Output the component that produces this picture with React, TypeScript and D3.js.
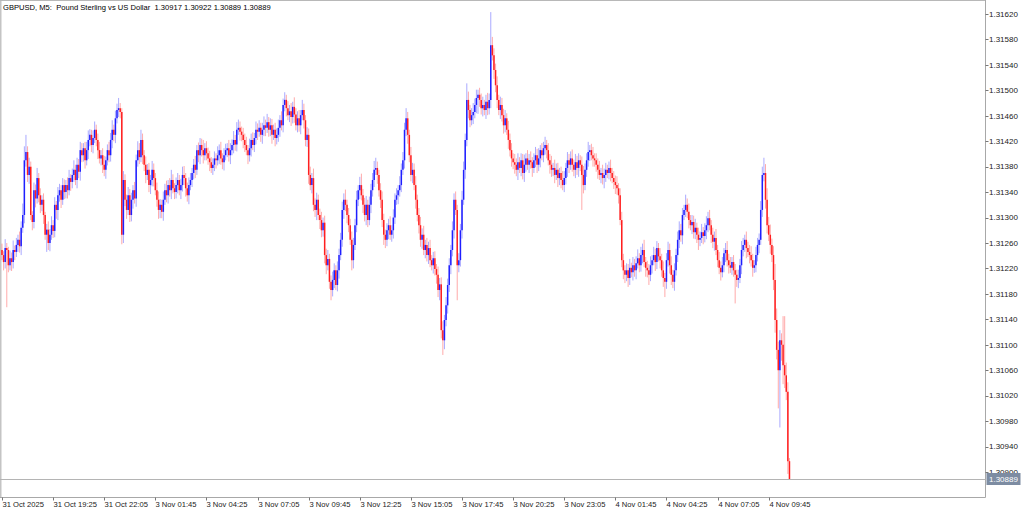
import React from "react";
import * as d3 from "d3";

const W = 1024;
const H = 511;

const title = "GBPUSD, M5:  Pound Sterling vs US Dollar  1.30917 1.30922 1.30889 1.30889";
const priceBase = 1.3;
const pointSize = 0.00001;
const firstOpenPts = 1249;
const lastPrice = 1.30889;

// close prices, in points (0.00001) above 1.30000, one per 5-minute bar
const closePts = [
  1241, 1230, 1252, 1249, 1225, 1236, 1230, 1249, 1246, 1257,
  1265, 1255, 1284, 1304, 1390, 1403, 1367, 1380, 1304, 1293,
  1343, 1330, 1362, 1335, 1320, 1328, 1304, 1273, 1281, 1260,
  1273, 1288, 1279, 1320, 1312, 1335, 1343, 1328, 1351, 1340,
  1351, 1343, 1362, 1356, 1367, 1375, 1359, 1383, 1372, 1406,
  1398, 1409, 1390, 1406, 1422, 1430, 1414, 1425, 1438, 1422,
  1406, 1393, 1398, 1383, 1375, 1390, 1406, 1398, 1422, 1438,
  1430, 1456, 1469, 1472, 1466, 1273, 1359, 1328, 1312, 1335,
  1304, 1328, 1343, 1330, 1390, 1406, 1395, 1422, 1398, 1383,
  1367, 1375, 1351, 1359, 1375, 1362, 1343, 1328, 1312, 1320,
  1309, 1328, 1343, 1335, 1351, 1343, 1359, 1346, 1340, 1351,
  1359, 1343, 1351, 1367, 1362, 1346, 1335, 1351, 1359, 1370,
  1383, 1375, 1406, 1398, 1414, 1406, 1398, 1409, 1401, 1393,
  1387, 1378, 1383, 1393, 1390, 1398, 1406, 1393, 1387, 1398,
  1406, 1409, 1398, 1406, 1414, 1422, 1415, 1438, 1441, 1435,
  1430, 1422, 1414, 1406, 1398, 1409, 1422, 1414, 1425, 1438,
  1435, 1441, 1430, 1438, 1445, 1441, 1450, 1438, 1445, 1430,
  1438, 1425, 1430, 1441, 1453, 1445, 1477, 1485, 1472, 1461,
  1467, 1458, 1474, 1462, 1445, 1456, 1445, 1461, 1469, 1453,
  1422, 1430, 1367, 1351, 1362, 1320, 1312, 1328, 1304, 1296,
  1280, 1292, 1241, 1225, 1235, 1199, 1186, 1202, 1217, 1194,
  1217, 1241, 1265, 1312, 1328, 1320, 1304, 1288, 1265, 1233,
  1257, 1288, 1328, 1343, 1351, 1335, 1320, 1304, 1320, 1296,
  1320, 1343, 1359, 1375, 1378, 1367, 1343, 1328, 1296, 1273,
  1265, 1280, 1288, 1273, 1280, 1300, 1328, 1335, 1343, 1351,
  1375, 1390, 1438, 1456, 1430, 1398, 1367, 1375, 1351, 1328,
  1304, 1288, 1265, 1273, 1249, 1257, 1241, 1252, 1233, 1225,
  1236, 1219, 1210, 1186, 1195, 1123, 1107, 1139, 1162, 1194,
  1225, 1249, 1280, 1328, 1312, 1225, 1233, 1280, 1328, 1375,
  1422, 1485, 1469, 1453, 1461, 1466, 1477, 1488, 1493, 1485,
  1472, 1477, 1469, 1482, 1472, 1485, 1571, 1555, 1532, 1508,
  1485, 1469, 1477, 1461, 1445, 1456, 1438, 1422, 1406, 1393,
  1387, 1383, 1375, 1387, 1378, 1390, 1370, 1383, 1393, 1383,
  1390, 1387, 1378, 1390, 1398, 1383, 1393, 1406, 1398, 1409,
  1414, 1406, 1390, 1383, 1375, 1378, 1367, 1375, 1362, 1370,
  1359, 1351, 1362, 1378, 1390, 1383, 1393, 1383, 1375, 1387,
  1378, 1390, 1383, 1367, 1351, 1375, 1390, 1403, 1406, 1398,
  1393, 1390, 1383, 1375, 1367, 1370, 1362, 1367, 1375, 1370,
  1378, 1370, 1362, 1356, 1351, 1346, 1335, 1296, 1233, 1217,
  1210, 1217, 1205, 1221, 1214, 1225, 1217, 1228, 1236, 1225,
  1241, 1249, 1230, 1221, 1217, 1210, 1225, 1233, 1241, 1230,
  1252, 1239, 1233, 1217, 1205, 1199, 1233, 1249, 1225, 1210,
  1199, 1217, 1241, 1265, 1280, 1272, 1304, 1312, 1320, 1309,
  1296, 1288, 1293, 1277, 1284, 1273, 1265, 1268, 1277, 1271,
  1280, 1288, 1299, 1288, 1273, 1262, 1268, 1249, 1233, 1221,
  1214, 1225, 1244, 1249, 1233, 1225, 1221, 1230, 1217, 1210,
  1202, 1205, 1225, 1249, 1257, 1265, 1252, 1246, 1241, 1233,
  1221, 1225, 1241, 1257, 1265, 1312, 1367, 1370, 1328, 1288,
  1273, 1257, 1241, 1202, 1139, 1092, 1060, 1107, 1100, 1068,
  1052, 1026, 917, 889,
];

// upper wick length above the body, in points
const upWick = [
  10, 6, 14, 8, 5, 12, 9, 15, 7, 11,
  8, 13, 10, 18, 22, 27, 9, 14, 8, 6,
  12, 9, 16, 8, 11, 7, 10, 5, 9, 13,
  9, 14, 8, 12, 6, 13, 10, 8, 11, 9,
  8, 12, 13, 6, 10, 15, 8, 11, 9, 13,
  11, 8, 10, 13, 15, 9, 8, 12, 13, 8,
  10, 13, 8, 11, 14, 6, 9, 13, 11, 15,
  8, 12, 10, 16, 8, 6, 14, 9, 8, 13,
  10, 11, 8, 13, 9, 14, 11, 16, 10, 8,
  13, 9, 11, 8, 14, 10, 8, 12, 13, 9,
  8, 13, 10, 15, 8, 11, 16, 9, 8, 12,
  11, 8, 10, 13, 14, 8, 9, 12, 11, 8,
  9, 14, 8, 12, 11, 10, 16, 8, 11, 9,
  12, 8, 10, 11, 8, 14, 9, 13, 8, 11,
  10, 8, 13, 11, 9, 14, 8, 12, 13, 10,
  8, 11, 10, 13, 8, 15, 10, 12, 8, 13,
  10, 12, 8, 11, 14, 9, 13, 8, 11, 10,
  8, 11, 10, 13, 8, 14, 10, 12, 8, 11,
  10, 13, 8, 15, 10, 11, 13, 8, 16, 10,
  8, 12, 10, 13, 8, 15, 10, 11, 8, 10,
  13, 8, 11, 10, 14, 8, 10, 13, 11, 8,
  14, 10, 11, 13, 10, 16, 8, 11, 10, 13,
  11, 10, 14, 8, 13, 18, 10, 11, 14, 8,
  13, 10, 11, 14, 16, 10, 8, 11, 13, 10,
  8, 11, 10, 14, 8, 13, 10, 11, 8, 14,
  10, 13, 11, 16, 10, 8, 13, 11, 10, 14,
  8, 11, 13, 10, 14, 8, 11, 10, 13, 8,
  10, 11, 8, 13, 10, 11, 14, 8, 13, 10,
  11, 8, 14, 10, 13, 8, 11, 10, 14, 13,
  10, 26, 13, 8, 11, 14, 10, 13, 8, 11,
  10, 13, 8, 11, 14, 10, 52, 13, 11, 10,
  14, 8, 13, 11, 10, 13, 8, 14, 10, 11,
  8, 13, 10, 14, 8, 11, 10, 16, 8, 13,
  10, 14, 8, 11, 13, 10, 16, 8, 11, 10,
  13, 8, 11, 10, 14, 8, 13, 10, 11, 8,
  10, 14, 11, 8, 13, 10, 11, 14, 8, 13,
  10, 11, 8, 13, 14, 10, 11, 16, 8, 10,
  13, 8, 11, 10, 14, 8, 13, 10, 11, 8,
  10, 13, 8, 11, 10, 14, 8, 11, 13, 10,
  8, 11, 10, 14, 8, 13, 10, 11, 14, 8,
  13, 10, 16, 8, 11, 10, 14, 8, 13, 10,
  11, 8, 13, 10, 14, 8, 11, 13, 10, 14,
  8, 11, 10, 13, 14, 10, 11, 8, 16, 10,
  13, 8, 11, 10, 14, 8, 11, 10, 13, 8,
  11, 14, 10, 13, 8, 11, 10, 14, 8, 13,
  10, 13, 8, 11, 14, 10, 13, 8, 11, 10,
  8, 13, 10, 14, 11, 8, 13, 10, 11, 14,
  10, 8, 13, 11, 10, 14, 13, 24, 14, 18,
  13, 16, 10, 14, 25, 18, 13, 16, 11, 45,
  77, 20, 15, 5,
];

// lower wick length below the body, in points
const downWick = [
  8, 13, 10, 90, 11, 8, 14, 10, 13, 8,
  11, 10, 14, 8, 13, 10, 11, 14, 8, 13,
  10, 14, 8, 11, 13, 10, 14, 8, 27, 11,
  13, 8, 11, 10, 14, 16, 10, 13, 8, 11,
  10, 13, 8, 14, 10, 11, 8, 13, 10, 14,
  11, 10, 13, 8, 14, 10, 11, 13, 8, 10,
  14, 8, 11, 13, 10, 14, 8, 11, 10, 13,
  10, 13, 8, 11, 10, 15, 13, 10, 14, 8,
  11, 10, 14, 8, 13, 10, 11, 8, 14, 10,
  13, 8, 11, 14, 10, 13, 8, 11, 14, 13,
  10, 14, 8, 11, 13, 10, 14, 8, 11, 10,
  13, 8, 14, 10, 11, 13, 10, 14, 8, 11,
  10, 13, 8, 11, 14, 10, 13, 8, 11, 10,
  14, 8, 11, 10, 13, 8, 14, 10, 11, 13,
  8, 11, 10, 14, 8, 13, 10, 11, 8, 14,
  10, 13, 11, 8, 14, 10, 13, 8, 11, 10,
  13, 8, 11, 14, 10, 13, 8, 11, 10, 14,
  8, 13, 10, 11, 14, 8, 11, 10, 13, 8,
  11, 14, 10, 13, 8, 11, 10, 14, 8, 13,
  10, 11, 14, 8, 13, 10, 11, 16, 8, 14,
  11, 10, 13, 14, 8, 11, 16, 10, 13, 8,
  10, 13, 8, 11, 14, 10, 13, 11, 8, 16,
  13, 8, 11, 10, 14, 8, 13, 10, 16, 11,
  8, 13, 10, 11, 8, 14, 10, 13, 11, 16,
  13, 10, 14, 8, 11, 13, 10, 8, 14, 10,
  11, 8, 13, 10, 14, 11, 10, 13, 8, 14,
  10, 13, 11, 14, 8, 13, 10, 14, 11, 8,
  13, 10, 14, 11, 16, 13, 23, 14, 10, 13,
  11, 14, 10, 13, 8, 55, 11, 10, 13, 8,
  14, 10, 13, 11, 8, 14, 10, 13, 25, 11,
  10, 13, 8, 14, 11, 10, 13, 8, 14, 11,
  13, 8, 14, 10, 13, 11, 8, 14, 10, 13,
  11, 14, 10, 16, 8, 13, 10, 14, 11, 8,
  13, 10, 14, 8, 11, 13, 10, 14, 8, 11,
  10, 13, 8, 14, 11, 10, 13, 8, 14, 11,
  13, 8, 11, 10, 14, 13, 8, 11, 10, 13,
  11, 14, 10, 55, 13, 8, 11, 10, 14, 8,
  13, 10, 11, 14, 8, 13, 10, 16, 11, 8,
  10, 13, 8, 11, 14, 10, 13, 8, 11, 14,
  13, 10, 14, 11, 8, 13, 10, 14, 8, 11,
  10, 13, 8, 14, 11, 16, 10, 13, 8, 14,
  11, 8, 13, 10, 14, 24, 11, 10, 13, 16,
  10, 14, 8, 11, 13, 10, 14, 8, 11, 10,
  13, 8, 14, 10, 11, 13, 16, 10, 8, 13,
  10, 14, 11, 8, 13, 10, 14, 8, 11, 10,
  13, 8, 11, 14, 10, 13, 8, 11, 10, 45,
  11, 13, 8, 14, 10, 11, 16, 8, 13, 10,
  14, 8, 11, 10, 13, 8, 11, 10, 14, 13,
  10, 14, 11, 16, 20, 15, 60, 90, 25, 30,
  20, 13, 20, 0,
];

const xTickLabels = [
  "31 Oct 2025", "31 Oct 19:25", "31 Oct 22:05", "3 Nov 01:45",
  "3 Nov 04:25", "3 Nov 07:05", "3 Nov 09:45", "3 Nov 12:25",
  "3 Nov 15:05", "3 Nov 17:45", "3 Nov 20:25", "3 Nov 23:05",
  "4 Nov 01:45", "4 Nov 04:25", "4 Nov 07:05", "4 Nov 09:45",
];
const barsPerXTick = 32;

const yTicks = [
  1.309, 1.3094, 1.3098, 1.3102, 1.3106, 1.311, 1.3114, 1.3118, 1.3122, 1.3126,
  1.313, 1.3134, 1.3138, 1.3142, 1.3146, 1.315, 1.3154, 1.3158, 1.3162,
];

const UP = "#1f1fff";
const DOWN = "#ff1f1f";
const FONT = "'Liberation Sans', Arial, sans-serif";

export default function App() {
  const plotRight = 985.5;
  const plotBottom = 497.5;
  const x = d3.scaleLinear().domain([0, 480]).range([2, 768.7]);
  const y = d3.scaleLinear().domain([1.309, 1.3162]).range([472, 14]);

  const candles = closePts.map((c, i) => {
    const o = i === 0 ? firstOpenPts : closePts[i - 1];
    const hi = Math.max(o, c) + upWick[i];
    const lo = Math.min(o, c) - downWick[i];
    const toP = (p: number) => priceBase + p * pointSize;
    return { i, o: toP(o), c: toP(c), h: toP(hi), l: toP(lo), up: c >= o };
  });

  return (
    <svg
      width={W}
      height={H}
      style={{ position: "absolute", left: 0, top: 0, background: "#fff" }}
      fontFamily={FONT}
    >
      <rect x={0} y={0} width={W} height={H} fill="#fff" />
      {/* frame */}
      <line x1={0.5} y1={0} x2={0.5} y2={plotBottom} stroke="#c4c4c4" strokeWidth={2} />
      <line x1={0} y1={0.5} x2={plotRight} y2={0.5} stroke="#b8b8b8" />
      <line x1={plotRight} y1={0} x2={plotRight} y2={plotBottom} stroke="#a8a8a8" />
      <line x1={0} y1={plotBottom} x2={plotRight} y2={plotBottom} stroke="#a8a8a8" />

      {/* last price line */}
      <line x1={0} x2={plotRight} y1={Math.round(y(lastPrice)) + 0.5} y2={Math.round(y(lastPrice)) + 0.5} stroke="#b4b4b4" />

      {/* candle wicks */}
      <g>
        {candles.map((d) => (
          <line
            key={"w" + d.i}
            x1={x(d.i)}
            x2={x(d.i)}
            y1={y(d.h)}
            y2={y(d.l)}
            stroke={d.up ? UP : DOWN}
            strokeOpacity={0.38}
            strokeWidth={1}
          />
        ))}
      </g>
      {/* candle bodies */}
      <g>
        {candles.map((d) => {
          const top = y(Math.max(d.o, d.c));
          const bot = y(Math.min(d.o, d.c));
          return (
            <line
              key={"b" + d.i}
              x1={x(d.i)}
              x2={x(d.i)}
              y1={top}
              y2={Math.max(bot, top + 1)}
              stroke={d.up ? UP : DOWN}
              strokeWidth={1.5}
            />
          );
        })}
      </g>

      {/* title */}
      <text x={3} y={10} fontSize={7.6} fill="#000" style={{ whiteSpace: "pre" }}>
        {title}
      </text>

      {/* y axis */}
      {yTicks.map((t) => (
        <g key={t}>
          <line x1={plotRight} x2={plotRight + 3} y1={Math.round(y(t)) + 0.5} y2={Math.round(y(t)) + 0.5} stroke="#777" />
          <text x={989} y={y(t) + 2.8} fontSize={8} fill="#222">
            {t.toFixed(5)}
          </text>
        </g>
      ))}

      {/* last price tag */}
      <rect x={986.5} y={y(lastPrice) - 6} width={34} height={12} fill="#7d8ca2" />
      <text x={989} y={y(lastPrice) + 2.8} fontSize={8} fill="#fff">
        {lastPrice.toFixed(5)}
      </text>

      {/* x axis */}
      {xTickLabels.map((lab, k) => {
        const tx = Math.round(x(k * barsPerXTick)) + 0.5;
        return (
          <g key={lab}>
            <line x1={tx} x2={tx} y1={plotBottom} y2={plotBottom + 3} stroke="#777" />
            <text x={tx} y={506.5} fontSize={7.6} fill="#222">
              {lab}
            </text>
          </g>
        );
      })}
    </svg>
  );
}
